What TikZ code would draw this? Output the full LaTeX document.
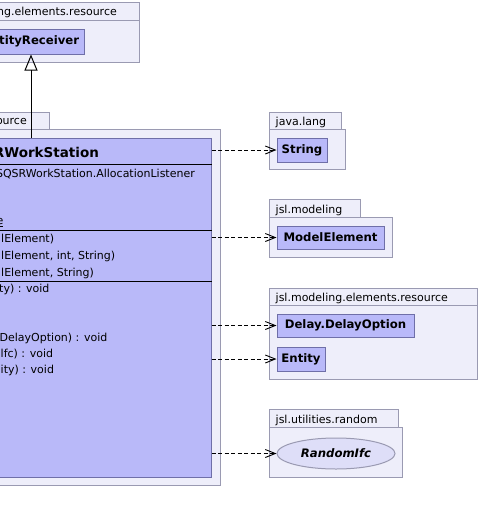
\documentclass[tikz,border=0pt]{standalone}
\usepackage{fontspec}
\setmainfont{DejaVu Sans}
\usetikzlibrary{arrows.meta,shapes.geometric}
\definecolor{pkgfill}{HTML}{EEEEFA}
\definecolor{pkgdraw}{HTML}{9A9AB2}
\definecolor{clsfill}{HTML}{B9B9F9}
\definecolor{clsdraw}{HTML}{6F6FA8}
\definecolor{ellfill}{HTML}{DEDEF8}
\newcommand{\normfont}{\fontsize{11}{13}\selectfont}
\newcommand{\boldfont}{\fontsize{11.7}{14}\selectfont\bfseries}
\begin{document}
\begin{tikzpicture}[x=1pt,y=-1pt,
  pkg/.style={draw=pkgdraw, fill=pkgfill, line width=1pt},
  cls/.style={draw=clsdraw, fill=clsfill, line width=1pt, inner sep=0pt, font=\boldfont},
  pkglabel/.style={inner sep=0pt, font=\normfont},
  member/.style={anchor=base west, inner sep=0pt, font=\normfont},
  sepline/.style={draw=black, line width=1pt},
  dep/.style={draw=black, line width=0.9pt, dash pattern=on 4pt off 2.5pt, -{Straight Barb[length=10pt,width=8pt]}},
  gen/.style={draw=black, line width=1pt, -{Triangle[open,length=16pt,width=13pt]}}
]
\useasboundingbox (0,0) rectangle (480,523);

% top package (EntityReceiver)
\draw[pkg] (-200,2) rectangle (139,20);
\draw[pkg] (-200,20) rectangle (139,62);
\node[pkglabel, anchor=base east] (pkgAlabel) at (117,15) {jsl.modeling.elements.resource};
\node[cls, minimum width=106pt, minimum height=25pt] (er) at (31,41.5) {EntityReceiver};

% package of SQSRWorkStation
\draw[pkg] (-200,112) rectangle (49,129);
\draw[pkg] (-200,129) rectangle (220,485);
\node[pkglabel, anchor=base east] (pkgBlabel) at (27,124.5) {resource};

% class SQSRWorkStation
\node[cls, minimum width=360pt, minimum height=339pt] (sqsr) at (31,307.5) {};
\node[inner sep=0pt, anchor=base, font=\fontsize{13.5}{16}\selectfont\bfseries] (sqsrname) at (31,157) {SQSRWorkStation};
\draw[sepline] (sqsr.west |- 0,164) -- (sqsr.east |- 0,164);
\draw[sepline] (sqsr.west |- 0,230) -- (sqsr.east |- 0,230);
\draw[sepline] (sqsr.west |- 0,281) -- (sqsr.east |- 0,281);

% attributes
\node[member, anchor=base east] (a1) at (195,177) {SQSRWorkStation.AllocationListener};
\node[member, anchor=base east] (a4) at (3.5,224.5) {\underline{e}};
% constructors
\node[member] (c1) at (1,242) {lElement)};
\node[member] (c2) at (1,259) {lElement, int, String)};
\node[member] (c3) at (1,276.5) {lElement, String)};
% methods
\node[member] (m1) at (-1,292.5) {ty) : void};
\node[member] (m4) at (-0.5,341) {DelayOption) : void};
\node[member] (m5) at (0.5,357.5) {lfc) : void};
\node[member] (m6) at (0.5,373.5) {ity) : void};

% java.lang
\draw[pkg] (269,112) rectangle (341,129);
\draw[pkg] (269,129) rectangle (345,169);
\node[pkglabel, anchor=base west] (pkgC) at (275.5,125) {java.lang};
\node[cls, minimum width=50pt, minimum height=24pt] (string) at (302,150) {String};

% jsl.modeling
\draw[pkg] (269,199) rectangle (360,217);
\draw[pkg] (269,217) rectangle (392,257);
\node[pkglabel, anchor=base west] (pkgD) at (275.5,213) {jsl.modeling};
\node[cls, minimum width=107pt, minimum height=23pt] (model) at (330.5,237.5) {ModelElement};

% jsl.modeling.elements.resource
\draw[pkg] (269,288) rectangle (477,305);
\draw[pkg] (269,305) rectangle (477,379);
\node[pkglabel, anchor=base west] (pkgE) at (275.5,301) {jsl.modeling.elements.resource};
\node[cls, minimum width=137pt, minimum height=23pt] (delay) at (345.5,325.5) {Delay.DelayOption};
\node[cls, minimum width=48pt, minimum height=24pt] (entity) at (301,359) {Entity};

% jsl.utilities.random
\draw[pkg] (269,409) rectangle (398,427);
\draw[pkg] (269,427) rectangle (402,477);
\node[pkglabel, anchor=base west] (pkgF) at (275.5,423) {jsl.utilities.random};
\node[ellipse, draw=pkgdraw, fill=ellfill, line width=1pt, minimum width=118pt, minimum height=31pt, inner sep=0pt, font=\boldfont\itshape] (rnd) at (336,453.5) {RandomIfc};

% connectors
\draw[gen] (sqsr.north) -- (er.south);
\draw[dep] (sqsr.east |- string.west) -- (string.west);
\draw[dep] (sqsr.east |- model.west) -- (model.west);
\draw[dep] (sqsr.east |- delay.west) -- (delay.west);
\draw[dep] (sqsr.east |- entity.west) -- (entity.west);
\draw[dep] (sqsr.east |- rnd.west) -- (rnd.west);
\end{tikzpicture}
\end{document}
